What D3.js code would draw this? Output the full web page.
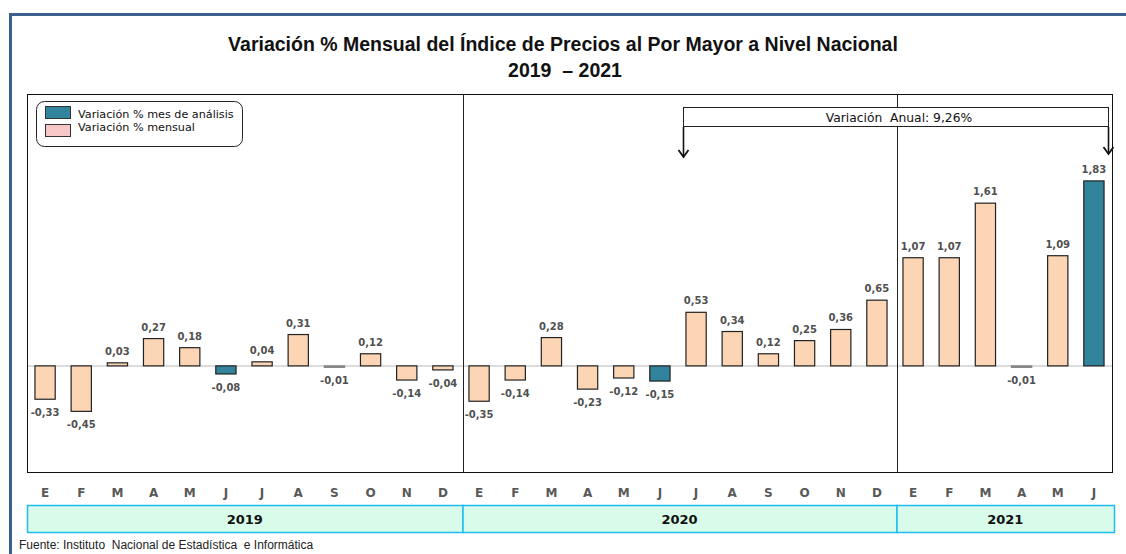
<!DOCTYPE html>
<html><head><meta charset="utf-8">
<script src="https://cdn.jsdelivr.net/npm/d3@7"></script>
<style>body{margin:0;background:#fff;}svg{display:block;} text{white-space:pre;}</style>
</head><body>
<svg id="c" width="1126" height="554"></svg>
<script>
const months = ["E","F","M","A","M","J","J","A","S","O","N","D","E","F","M","A","M","J","J","A","S","O","N","D","E","F","M","A","M","J"];
const years = ["2019","2020","2021"];
const yearCounts = [12,12,6];
const values = [-0.33,-0.45,0.03,0.27,0.18,-0.08,0.04,0.31,-0.01,0.12,-0.14,-0.04,
                -0.35,-0.14,0.28,-0.23,-0.12,-0.15,0.53,0.34,0.12,0.25,0.36,0.65,
                1.07,1.07,1.61,-0.01,1.09,1.83];
const highlighted = [5,17,29];
const legendLabels = ["Variación % mes de análisis","Variación % mensual"];
const titleLines = ["Variación % Mensual del Índice de Precios al Por Mayor a Nivel Nacional","2019  – 2021"];
const annualLabel = "Variación  Anual: 9,26%";
const annualFrom = 18, annualTo = 29;
const source = "Fuente: Instituto  Nacional de Estadística  e Informática";

const svg = d3.select("#c");
const L = 27, R = 1112, T = 94, B = 472;
const x = d3.scaleBand().domain(d3.range(values.length)).range([L, R]).paddingInner(0.44).paddingOuter(0.22);
const y = d3.scaleLinear().domain([-1.05, 2.69]).range([B, T]);
const step = x.step();
const fmt = v => d3.format(".2f")(v).replace(".", ",").replace("\u2212", "-");

// outer frame
svg.append("path").attr("d", `M10.5,554 V14.5 H1126`).attr("fill","none").attr("stroke","#3b5f8f").attr("stroke-width",3);

// title
svg.append("text").attr("x",563).attr("y",51).attr("text-anchor","middle")
  .attr("font-family","Liberation Sans, Arial, sans-serif").attr("font-weight","bold").attr("font-size",19.5).attr("fill","#111").text(titleLines[0]);
svg.append("text").attr("x",565).attr("y",77).attr("text-anchor","middle")
  .attr("font-family","Liberation Sans, Arial, sans-serif").attr("font-weight","bold").attr("font-size",19.5).attr("fill","#111").text(titleLines[1]);

// zero line
svg.append("line").attr("x1",L).attr("x2",R).attr("y1",y(0)).attr("y2",y(0)).attr("stroke","#dcdcdc").attr("stroke-width",2);

// plot frame
svg.append("rect").attr("x",L+0.5).attr("y",T+0.5).attr("width",R-L).attr("height",B-T).attr("fill","none").attr("stroke","#111").attr("stroke-width",1);

// year separators
let cum = 0;
const seps = [];
yearCounts.slice(0,-1).forEach(c => { cum += c; seps.push(L + step*cum + 1.5); });
seps.forEach(sx => svg.append("line").attr("x1",Math.round(sx)+0.5).attr("x2",Math.round(sx)+0.5).attr("y1",T).attr("y2",B).attr("stroke","#222").attr("stroke-width",1));

// bars
svg.append("g").selectAll("rect").data(values).join("rect")
  .attr("x",(d,i)=>x(i)).attr("width",x.bandwidth())
  .attr("y",d=>y(Math.max(0,d))).attr("height",d=>Math.max(1.5,Math.abs(y(d)-y(0))))
  .attr("fill",(d,i)=>highlighted.includes(i)?"#31849b":(Math.abs(d)<0.015?"#888":"#fcd5b4"))
  .attr("stroke",(d,i)=>Math.abs(d)<0.015?"#888":"#222").attr("stroke-width",1.2);

// value labels
svg.append("g").selectAll("text").data(values).join("text")
  .attr("x",(d,i)=>x(i)+x.bandwidth()/2)
  .attr("y",d=> d>=0 ? y(d)-8 : y(d)+17)
  .attr("text-anchor","middle").attr("font-family","DejaVu Sans, Verdana, sans-serif").attr("font-weight","bold")
  .attr("font-size",10).attr("fill","#505050").text(d=>fmt(d));

// month labels
svg.append("g").selectAll("text").data(months).join("text")
  .attr("x",(d,i)=>x(i)+x.bandwidth()/2).attr("y",497).attr("text-anchor","middle")
  .attr("font-family","DejaVu Sans, Verdana, sans-serif").attr("font-weight","bold").attr("font-size",12).attr("fill","#595959").text(d=>d);

// year boxes
cum = 0;
years.forEach((yr,k) => {
  const x0 = k===0 ? L : L + step*cum + 1.5;
  const x1 = k===years.length-1 ? R + 2 : L + step*(cum+yearCounts[k]) + 1.5;
  cum += yearCounts[k];
  svg.append("rect").attr("x",x0+0.5).attr("y",505.5).attr("width",x1-x0).attr("height",27).attr("fill","#d8fbea").attr("stroke","#1ebdf0").attr("stroke-width",1.5);
  svg.append("text").attr("x",(x0+x1)/2).attr("y",524).attr("text-anchor","middle")
    .attr("font-family","DejaVu Sans, Verdana, sans-serif").attr("font-weight","bold").attr("font-size",13).attr("fill","#111").text(yr);
});

// legend
svg.append("rect").attr("x",36.5).attr("y",101.5).attr("width",206).attr("height",45).attr("rx",8).attr("fill","#fff").attr("stroke","#222").attr("stroke-width",1);
const legColors = ["#31849b","#f7c6c6"];
legendLabels.forEach((t,k)=>{
  svg.append("rect").attr("x",45.5).attr("y",106.5+k*18).attr("width",25).attr("height",12).attr("fill",legColors[k]).attr("stroke","#333").attr("stroke-width",1);
  svg.append("text").attr("x",78).attr("y",118+k*13).attr("font-family","DejaVu Sans, Verdana, sans-serif").attr("font-size",11.2).attr("fill","#111").text(t);
});

// annual variation box & arrows
const ax0 = 683.5, ax1 = R - 3.5;
svg.append("rect").attr("x",ax0).attr("y",107.5).attr("width",ax1-ax0).attr("height",19).attr("fill","#fff").attr("stroke","#222").attr("stroke-width",1);
svg.append("text").attr("x",899).attr("y",122).attr("text-anchor","middle").attr("font-family","DejaVu Sans, Verdana, sans-serif").attr("font-size",12.3).attr("fill","#111").text(annualLabel);
[ax0, ax1].forEach((axx,k)=>{
  const yEnd = k===0?157:154;
  svg.append("line").attr("x1",axx).attr("x2",axx).attr("y1",127).attr("y2",yEnd).attr("stroke","#111").attr("stroke-width",1.6);
  svg.append("path").attr("d",`M${axx-5},${yEnd-7} L${axx},${yEnd} L${axx+5},${yEnd-7}`).attr("fill","none").attr("stroke","#111").attr("stroke-width",1.8);
});

// source
svg.append("text").attr("x",19).attr("y",549).attr("font-family","Liberation Sans, Arial, sans-serif").attr("font-size",12).attr("fill","#222").text(source);
</script>
</body></html>
